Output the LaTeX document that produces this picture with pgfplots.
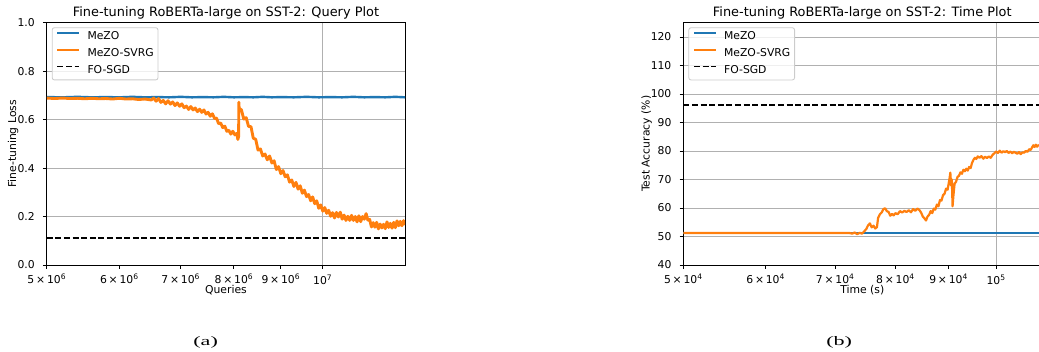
\documentclass[border=0pt]{standalone}
\usepackage{fontspec}
\setmainfont{DejaVu Sans}
\newfontfamily\capfont[FakeStretch=1.7]{Liberation Serif}
\usepackage{pgfplots}
\pgfplotsset{compat=1.18}
\definecolor{mblue}{HTML}{1F77B4}
\definecolor{morange}{HTML}{FF7F0E}
\definecolor{gridc}{HTML}{B0B0B0}
\definecolor{leggray}{HTML}{CCCCCC}
\pgfplotsset{legend image code/.code={\draw[#1, line cap=butt, line width=1.8pt] (0pt,3.94pt) -- (21.6pt,3.94pt);}}
\begin{document}
\begin{tikzpicture}[x=1pt,y=1pt]
\path[use as bounding box] (0,0) rectangle (1039,352);
% ---------------- (a) ----------------
\begin{axis}[
  scale only axis,
  xmode=log,
  axis line style={line width=0.86pt},
  tick style={line width=0.86pt, black},
  tick align=outside,
  major tick length=3.8pt,
  xtick pos=left, ytick pos=left,
  ymajorgrids,
  grid style={line width=0.86pt, gridc},
  ticklabel style={font=\fontsize{10.8}{13}\selectfont},
  xticklabel style={anchor=base, inner sep=0pt, yshift=-14.3pt},
  yticklabel style={anchor=east, inner sep=0pt, xshift=-8pt},
  label style={font=\fontsize{10.8}{13}\selectfont},
  title style={font=\fontsize{12.9}{15}\selectfont, at={(axis description cs:0.5,1)}, anchor=base, yshift=0.2pt},
  xlabel style={at={(axis description cs:0.5,-0.1156)}, anchor=base},
  extra x tick style={grid=major},
  legend cell align=left,
  legend style={anchor=north west, draw=leggray, line width=0.86pt, rounded corners=2.2pt,
    fill=white, fill opacity=0.8, text opacity=1, draw opacity=1,
    inner xsep=4.3pt, inner ysep=3.75pt, row sep=5.4pt,
    font=\fontsize{10.8}{13}\selectfont,
    nodes={inner sep=0pt, text height=8.3pt, text depth=3pt},
    /tikz/every odd column/.style={column sep=7.6pt},
    at={(axis description cs:0.01395,0.981)}},
  at={(46.7pt,87pt)}, anchor=south west,
  width=358.3pt, height=242.3pt,
  xmin=5e6, xmax=1.2297e7, ymin=0, ymax=1,
  xtick={5e6,6e6,7e6,8e6,9e6,1e7},
  xticklabels={5\,×\,10\textsuperscript{6},6\,×\,10\textsuperscript{6},7\,×\,10\textsuperscript{6},8\,×\,10\textsuperscript{6},9\,×\,10\textsuperscript{6},\raisebox{-1.7pt}{10\textsuperscript{7}}},
  extra x ticks={1e7}, extra x tick labels={},
  ytick={0,0.2,0.4,0.6,0.8,1.0},
  yticklabels={0.0,0.2,0.4,0.6,0.8,1.0},
  title={Fine-tuning RoBERTa-large on SST-2: Query Plot},
  xlabel={Queries},
  ylabel={Fine-tuning Loss},
  ylabel style={at={(axis description cs:-0.0857,0.5)}, rotate=0, anchor=base},
]
\addplot[mblue, line width=2.4pt, line join=round] coordinates {
(5.0e6,0.693) (5.2e6,0.692) (5.4e6,0.694) (5.6e6,0.692) (5.8e6,0.693) (6.0e6,0.692)
(6.2e6,0.694) (6.4e6,0.692) (6.6e6,0.693) (6.8e6,0.692) (7.0e6,0.694) (7.2e6,0.692)
(7.4e6,0.693) (7.6e6,0.692) (7.8e6,0.694) (8.0e6,0.692) (8.2e6,0.693) (8.4e6,0.692)
(8.6e6,0.694) (8.8e6,0.692) (9.0e6,0.693) (9.3e6,0.692) (9.6e6,0.694) (9.9e6,0.692)
(10.2e6,0.693) (10.5e6,0.692) (10.8e6,0.694) (11.1e6,0.692) (11.4e6,0.693) (11.7e6,0.692)
(12.0e6,0.694) (12.297e6,0.692)
};
\addlegendentry{MeZO}
\addplot[morange, line width=2.9pt, line join=round] coordinates {
(5.00e6,0.689) (5.10e6,0.687) (5.20e6,0.689) (5.30e6,0.687) (5.40e6,0.688) (5.50e6,0.686)
(5.60e6,0.688) (5.70e6,0.686) (5.80e6,0.687) (5.90e6,0.685) (6.00e6,0.688) (6.10e6,0.685)
(6.20e6,0.686) (6.30e6,0.683) (6.40e6,0.685) (6.50e6,0.681)
(6.54e6,0.689) (6.58e6,0.676) (6.62e6,0.687) (6.66e6,0.671) (6.70e6,0.679) (6.74e6,0.665)
(6.78e6,0.678) (6.82e6,0.664) (6.86e6,0.673) (6.90e6,0.658) (6.94e6,0.669) (6.98e6,0.655)
(7.02e6,0.665) (7.06e6,0.649) (7.10e6,0.656) (7.14e6,0.642) (7.18e6,0.654) (7.22e6,0.640)
(7.26e6,0.648) (7.30e6,0.633) (7.34e6,0.643) (7.38e6,0.630) (7.42e6,0.640) (7.46e6,0.623)
(7.50e6,0.630) (7.54e6,0.614) (7.58e6,0.624) (7.62e6,0.605) (7.66e6,0.606) (7.70e6,0.583)
(7.74e6,0.586) (7.78e6,0.567) (7.82e6,0.573) (7.86e6,0.552) (7.90e6,0.556) (7.94e6,0.540)
(7.98e6,0.552) (8.02e6,0.537) (8.06e6,0.543) (8.08e6,0.518) (8.095e6,0.530) (8.10e6,0.672)
(8.105e6,0.650) (8.12e6,0.642)
(8.15e6,0.642) (8.20e6,0.602) (8.25e6,0.608) (8.30e6,0.572) (8.35e6,0.571) (8.40e6,0.523)
(8.45e6,0.519) (8.50e6,0.474) (8.55e6,0.479) (8.60e6,0.450) (8.65e6,0.458) (8.70e6,0.434)
(8.75e6,0.450) (8.80e6,0.421) (8.85e6,0.430) (8.90e6,0.394) (8.95e6,0.406) (9.00e6,0.377)
(9.05e6,0.390) (9.10e6,0.364) (9.15e6,0.372) (9.20e6,0.342) (9.25e6,0.351) (9.30e6,0.324)
(9.35e6,0.341) (9.40e6,0.313) (9.45e6,0.327) (9.50e6,0.296) (9.55e6,0.309) (9.60e6,0.282)
(9.65e6,0.291) (9.70e6,0.265) (9.75e6,0.281) (9.80e6,0.253) (9.85e6,0.265) (9.90e6,0.234)
(9.95e6,0.248) (10.00e6,0.222) (10.05e6,0.237) (10.10e6,0.213) (10.15e6,0.226) (10.20e6,0.201)
(10.25e6,0.216) (10.30e6,0.194) (10.35e6,0.217) (10.40e6,0.198) (10.45e6,0.218) (10.50e6,0.189)
(10.55e6,0.206) (10.60e6,0.184) (10.65e6,0.201) (10.70e6,0.184) (10.75e6,0.205) (10.80e6,0.184)
(10.85e6,0.200) (10.90e6,0.178) (10.95e6,0.203) (11.00e6,0.179) (11.05e6,0.200) (11.10e6,0.189)
(11.15e6,0.212) (11.20e6,0.185) (11.25e6,0.188) (11.30e6,0.157) (11.35e6,0.175) (11.40e6,0.156)
(11.45e6,0.176) (11.50e6,0.149) (11.55e6,0.169) (11.60e6,0.153) (11.65e6,0.168) (11.70e6,0.150)
(11.75e6,0.178) (11.80e6,0.155) (11.85e6,0.172) (11.90e6,0.152) (11.95e6,0.176) (12.00e6,0.154)
(12.05e6,0.182) (12.10e6,0.162) (12.15e6,0.180) (12.20e6,0.162) (12.25e6,0.183) (12.297e6,0.165)
};
\addlegendentry{MeZO-SVRG}
\addplot[black, line width=1.8pt, dash pattern=on 6pt off 2.6pt] coordinates {(5e6,0.11) (1.2297e7,0.11)};
\addlegendentry{FO-SGD}
\end{axis}
% ---------------- (b) ----------------
\begin{axis}[
  scale only axis,
  xmode=log,
  axis line style={line width=0.86pt},
  tick style={line width=0.86pt, black},
  tick align=outside,
  major tick length=3.8pt,
  xtick pos=left, ytick pos=left,
  ymajorgrids,
  grid style={line width=0.86pt, gridc},
  ticklabel style={font=\fontsize{10.8}{13}\selectfont},
  xticklabel style={anchor=base, inner sep=0pt, yshift=-14.3pt},
  yticklabel style={anchor=east, inner sep=0pt, xshift=-8pt},
  label style={font=\fontsize{10.8}{13}\selectfont},
  title style={font=\fontsize{12.9}{15}\selectfont, at={(axis description cs:0.5,1)}, anchor=base, yshift=0.2pt},
  xlabel style={at={(axis description cs:0.5,-0.1156)}, anchor=base},
  extra x tick style={grid=major},
  legend cell align=left,
  legend style={anchor=north west, draw=leggray, line width=0.86pt, rounded corners=2.2pt,
    fill=white, fill opacity=0.8, text opacity=1, draw opacity=1,
    inner xsep=4.3pt, inner ysep=3.75pt, row sep=5.4pt,
    font=\fontsize{10.8}{13}\selectfont,
    nodes={inner sep=0pt, text height=8.3pt, text depth=3pt},
    /tikz/every odd column/.style={column sep=7.6pt},
    at={(axis description cs:0.01397,0.981)}},
  at={(683.3pt,87pt)}, anchor=south west,
  width=357.8pt, height=242.3pt,
  xmin=5e4, xmax=1.105e5, ymin=40, ymax=125,
  xtick={5e4,6e4,7e4,8e4,9e4,1e5},
  xticklabels={5\,×\,10\textsuperscript{4},6\,×\,10\textsuperscript{4},7\,×\,10\textsuperscript{4},8\,×\,10\textsuperscript{4},9\,×\,10\textsuperscript{4},\raisebox{-1.7pt}{10\textsuperscript{5}}},
  extra x ticks={1e5}, extra x tick labels={},
  ytick={40,50,60,70,80,90,100,110,120},
  yticklabels={40,50,60,70,80,90,100,110,120},
  title={Fine-tuning RoBERTa-large on SST-2: Time Plot},
  xlabel={Time (s)},
  ylabel={Test Accuracy (\%)},
  ylabel style={at={(axis description cs:-0.0942,0.5)}, rotate=0, anchor=base},
]
\addplot[mblue, line width=2.2pt] coordinates {(5e4,51.2) (7e4,51.2) (9e4,51.2) (1.105e5,51.2)};
\addlegendentry{MeZO}
\addplot[morange, line width=2.2pt, line join=round] coordinates {
(50000,51.2) (60000,51.2) (70000,51.2) (72300,51.2) (72700,51.0) (73100,51.4) (73500,50.8)
(73900,51.3) (74300,51.0) (74700,51.9) (75000,52.6) (75300,53.9) (75600,54.6) (75900,53.2)
(76200,53.8) (76500,52.8) (76800,53.3) (77000,56.5) (77300,57.8) (77600,58.4) (77900,59.6)
(78200,59.9) (78500,58.9) (78800,58.6) (79100,57.3) (79400,57.9) (79700,57.4) (80000,58.2)
(80400,57.8) (80800,58.9) (81200,58.4) (81600,59.0) (82000,58.6) (82400,59.2) (82800,58.5)
(83200,59.6) (83600,59.0) (84000,59.8) (84400,59.2) (84700,58.3) (85000,57.0) (85300,56.4)
(85600,55.6) (85900,57.0) (86200,57.6) (86500,58.9) (86800,58.2) (87100,59.8) (87400,59.4)
(87700,61.2) (88000,60.6) (88300,62.8) (88600,62.6) (88900,64.5) (89200,65.0) (89500,66.8)
(89800,66.4) (90000,68.4) (90200,70.5) (90350,72.4) (90500,67.9) (90650,70.0) (90800,60.6)
(90950,64.0) (91200,68.5) (91500,69.2) (91800,70.9) (92100,71.3) (92400,72.5) (92700,72.0)
(93000,73.4) (93300,72.9) (93600,73.8) (93900,73.1) (94200,74.4) (94500,74.0) (94800,75.8)
(95100,76.9) (95400,77.6) (95700,77.2) (96000,78.1) (96400,77.6) (96800,78.2) (97200,77.3)
(97600,78.0) (98000,77.5) (98400,78.1) (98800,77.6) (99200,78.6) (99600,79.2) (100000,79.8)
(100400,79.3) (100800,80.1) (101200,79.4) (101600,79.9) (102000,79.6) (102400,80.0) (102800,79.3)
(103200,79.8) (103600,79.2) (104000,79.7) (104400,79.4) (104800,79.0) (105200,79.6) (105600,78.9)
(106000,79.5) (106400,79.4) (106800,80.0) (107200,79.7) (107600,80.6) (108000,80.4) (108300,81.3)
(108600,82.0) (108900,81.4) (109200,82.2) (109500,81.5) (109800,82.0) (110000,81.7)
};
\addlegendentry{MeZO-SVRG}
\addplot[black, line width=1.8pt, dash pattern=on 6pt off 2.6pt] coordinates {(5e4,96) (1.105e5,96)};
\addlegendentry{FO-SGD}
\end{axis}
% ---------------- captions ----------------
\node[anchor=base, font=\capfont\fontsize{13}{15}\selectfont, inner sep=0pt] at (205.6,6) {(a)};
\node[anchor=base, font=\capfont\fontsize{13}{15}\selectfont, inner sep=0pt] at (839.2,6) {(b)};
\end{tikzpicture}
\end{document}
